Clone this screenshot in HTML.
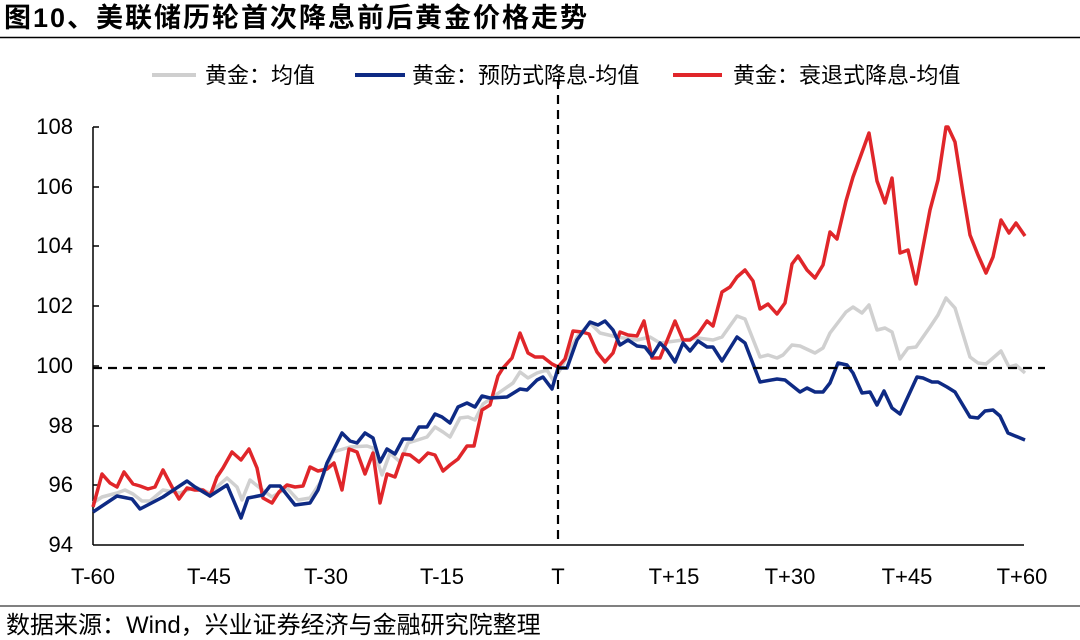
<!DOCTYPE html>
<html><head><meta charset="utf-8"><style>
body{margin:0;background:#fff;}
svg{display:block;font-family:"Liberation Sans","Noto Sans CJK SC",sans-serif;}
</style></head><body>
<svg width="1080" height="640" viewBox="0 0 1080 640">
<text x="4" y="27" font-size="27" letter-spacing="2" font-weight="bold" fill="#000">图10、美联储历轮首次降息前后黄金价格走势</text>
<line x1="0" y1="37.5" x2="1080" y2="37.5" stroke="#000" stroke-width="1.5"/>
<g font-size="22">
<line x1="152" y1="75" x2="196" y2="75" stroke="#cfcfcf" stroke-width="4"/>
<text x="205" y="83">黄金：均值</text>
<line x1="355" y1="75" x2="405" y2="75" stroke="#0e2a84" stroke-width="4"/>
<text x="412" y="83">黄金：预防式降息-均值</text>
<line x1="673" y1="75" x2="722" y2="75" stroke="#e0262a" stroke-width="4"/>
<text x="733" y="83">黄金：衰退式降息-均值</text>
</g>
<g stroke="#000" stroke-width="1.5">
<line x1="93" y1="127" x2="93" y2="545"/>
<line x1="93" y1="545" x2="1024" y2="545"/>
<line x1="93" y1="127" x2="99" y2="127"/><line x1="93" y1="187" x2="99" y2="187"/><line x1="93" y1="246" x2="99" y2="246"/><line x1="93" y1="306" x2="99" y2="306"/><line x1="93" y1="366" x2="99" y2="366"/><line x1="93" y1="426" x2="99" y2="426"/><line x1="93" y1="485" x2="99" y2="485"/>
</g>
<g font-size="22" text-anchor="end">
<text x="73" y="134">108</text><text x="73" y="194">106</text><text x="73" y="253">104</text><text x="73" y="313">102</text><text x="73" y="373">100</text><text x="73" y="433">98</text><text x="73" y="492">96</text><text x="73" y="552">94</text>
</g>
<g font-size="22" text-anchor="middle">
<text x="93" y="584">T-60</text><text x="209" y="584">T-45</text><text x="326" y="584">T-30</text><text x="442" y="584">T-15</text><text x="558" y="584">T</text><text x="674" y="584">T+15</text><text x="790" y="584">T+30</text><text x="907" y="584">T+45</text><text x="1022" y="584">T+60</text>
</g>
<g fill="none" stroke-width="3.5" stroke-linejoin="round">
<polyline stroke="#d0d0d0" points="93,503 102,497 117,493 125,490 133,494 142,501 150,501 163,490 180,493 195,487 210,493 227,478 237,487 242,500 250,480 260,488 272,497 287,488 298,500 310,498 320,483 333,452 350,447 367,446 373,448 382,475 390,453 400,462 408,443 427,437 435,427 443,432 450,437 460,418 468,417 475,420 483,404 500,392 513,383 520,372 528,378 537,373 547,370 553,380 560,370 577,337 590,323 600,333 617,337 637,340 650,337 660,343 683,340 698,338 713,340 722,337 737,316 745,319 760,357 768,355 777,358 783,355 792,345 800,346 815,353 823,348 830,333 846,312 853,307 862,313 869,305 877,330 885,328 892,332 900,359 908,348 916,347 930,327 938,315 946,298 955,308 970,357 978,363 986,364 993,358 1001,351 1009,367 1016,365 1025,373"/>
<polyline stroke="#e0262a" points="93,507 102,474 110,483 117,487 124,472 133,484 140,486 148,489 155,487 163,470 172,487 179,499 187,488 195,490 203,490 210,496 217,477 223,468 232,452 241,460 249,449 257,468 263,498 272,503 279,492 287,485 295,487 303,486 310,467 318,471 327,469 334,463 342,490 349,449 357,452 365,474 373,453 380,503 387,474 395,477 403,454 410,455 419,462 428,453 435,455 443,471 450,465 458,459 467,446 474,446 482,410 490,405 498,376 503,368 512,358 520,333 528,353 535,357 543,357 552,364 558,367 565,359 573,331 582,332 589,334 597,352 605,362 613,353 620,332 628,335 637,336 644,321 652,358 660,358 675,321 683,340 690,340 698,334 707,321 713,326 722,292 730,287 737,277 745,270 753,281 760,309 768,304 777,314 785,303 792,264 798,256 807,270 815,278 823,265 830,232 837,239 846,201 853,177 869,133 877,181 885,203 892,178 900,253 908,250 916,284 930,210 938,180 946,127 948,127 955,142 963,193 970,235 978,255 986,273 993,257 1001,220 1009,233 1016,223 1025,236"/>
<polyline stroke="#0e2a84" points="93,512 117,496 132,499 140,509 163,497 187,481 195,487 210,496 227,485 241,518 248,498 263,495 270,486 280,486 295,505 310,503 318,490 327,463 342,433 350,441 357,443 365,433 373,438 380,462 387,449 395,454 403,439 412,439 419,427 427,427 435,414 442,417 450,423 458,407 467,403 475,407 482,396 490,398 507,397 520,389 527,390 537,380 543,377 552,389 558,368 567,368 577,340 590,322 598,325 605,321 613,330 620,345 628,340 637,346 645,347 652,356 660,343 667,350 675,362 683,343 690,351 698,341 707,347 713,347 722,361 737,337 745,343 760,382 777,379 785,380 800,392 807,388 815,392 823,392 830,383 838,363 847,365 853,373 862,393 870,392 877,405 884,391 892,408 900,414 917,377 923,378 932,382 938,382 947,387 955,392 970,417 978,418 985,411 993,410 1000,416 1008,433 1025,440"/>
</g>
<line x1="93" y1="368" x2="1045" y2="368" stroke="#000" stroke-width="2.2" stroke-dasharray="9,6"/>
<line x1="558" y1="80" x2="558" y2="545" stroke="#000" stroke-width="2.2" stroke-dasharray="9,6"/>
<line x1="0" y1="606" x2="1080" y2="606" stroke="#000" stroke-width="1"/>
<text x="6" y="633" font-size="24">数据来源：Wind，兴业证券经济与金融研究院整理</text>
</svg>
</body></html>
